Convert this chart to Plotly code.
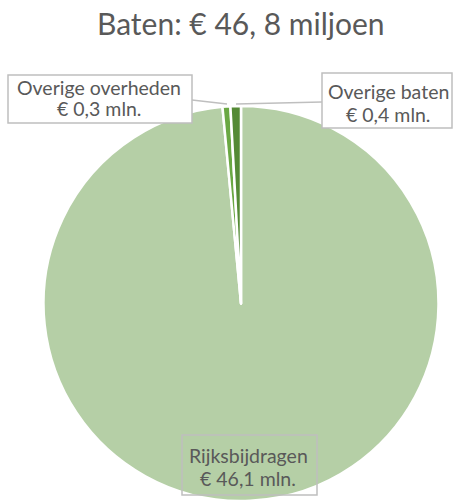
import plotly.graph_objects as go

categories = ["Rijksbijdragen", "Overige overheden", "Overige baten"]
values = [46.1, 0.3, 0.4]
value_labels = ["€ 46,1 mln.", "€ 0,3 mln.", "€ 0,4 mln."]
colors = ["#b5cfa6", "#6aa843", "#548a35"]
title_text = "Baten: € 46, 8 miljoen"

W, H = 454, 501
FONT = "Lato, 'Open Sans', sans-serif"
GREY = "#595959"
BORDER = "#bfbfbf"

fig = go.Figure(go.Pie(
    labels=categories, values=values, sort=False, direction="clockwise",
    rotation=0, textinfo="none", hoverinfo="label+value",
    marker=dict(colors=colors, line=dict(color="white", width=2.5)),
    domain=dict(x=[43 / W, 439 / W], y=[0, 1 - 106 / H]),
    showlegend=False,
))

def px(x):
    return x / W

def py(y):
    return 1 - y / H

# label boxes: (index, box x0, y0, x1, y1, text centre x, line1 y, line2 y)
boxes = [
    (0, 182, 435, 317, 495, 248, 455, 478),
    (1, 8, 75, 192, 123, 99, 87, 109),
    (2, 322, 73, 452, 128, 388, 92, 115),
]
annotations = []
shapes = []
for i, x0, y0, x1, y1, tx, l1, l2 in boxes:
    shapes.append(dict(
        type="rect", xref="paper", yref="paper",
        x0=px(x0), x1=px(x1), y0=py(y0), y1=py(y1),
        line=dict(color=BORDER, width=1.5),
        fillcolor="white" if i else "rgba(0,0,0,0)", layer="above",
    ))
    for txt, ly in ((categories[i], l1), (value_labels[i], l2)):
        annotations.append(dict(
            x=px(tx), y=py(ly), xref="paper", yref="paper", text=txt,
            showarrow=False, xanchor="center", yanchor="middle",
            font=dict(family=FONT, size=19.5, color=GREY),
        ))

annotations.append(dict(
    x=px(241), y=py(23), xref="paper", yref="paper", text=title_text,
    showarrow=False, xanchor="center", yanchor="middle",
    font=dict(family=FONT, size=30, color=GREY),
))

shapes += [
    dict(type="line", xref="paper", yref="paper", x0=px(192), y0=py(100), x1=px(227), y1=py(104),
         line=dict(color=BORDER, width=1.5)),
    dict(type="line", xref="paper", yref="paper", x0=px(322), y0=py(102), x1=px(236), y1=py(104),
         line=dict(color=BORDER, width=1.5)),
]

fig.update_layout(
    width=W, height=H, margin=dict(l=0, r=0, t=0, b=0),
    paper_bgcolor="white", plot_bgcolor="white",
    annotations=annotations, shapes=shapes,
)

fig.write_html("out.html", config={"displayModeBar": False},
               post_script="document.body.style.margin='0';")
